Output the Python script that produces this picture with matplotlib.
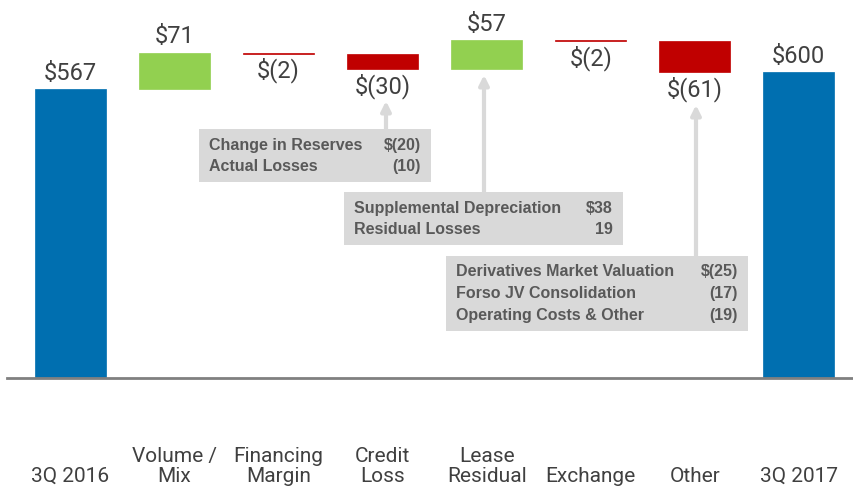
import matplotlib
matplotlib.use('Agg')
import matplotlib.pyplot as plt
from matplotlib.patches import Rectangle
from matplotlib.transforms import Affine2D, blended_transform_factory
import numpy as np

# waterfall data
categories = ['3Q 2016', 'Volume /\nMix', 'Financing\nMargin', 'Credit\nLoss',
              'Lease\nResidual', 'Exchange', 'Other', '3Q 2017']
values = [567, 71, -2, -30, 57, -2, -61, 600]
is_total = [True, False, False, False, False, False, False, True]
value_labels = ['$567', '$71', '$(2)', '$(30)', '$57', '$(2)', '$(61)', '$600']

# callout boxes
box1_items = ['Change in Reserves', 'Actual Losses']
box1_vals = ['$(20)', '(10)']
box2_items = ['Supplemental Depreciation', 'Residual Losses']
box2_vals = ['$38', '19']
box3_items = ['Derivatives Market Valuation', 'Forso JV Consolidation', 'Operating Costs & Other']
box3_vals = ['$(25)', '(17)', '(19)']

BLUE = '#006fb0'
GREEN = '#92d050'
RED = '#c00000'
TXT = '#404040'
BOXC = '#d9d9d9'

cond = ['Roboto', 'DejaVu Sans']
boxfont = ['Liberation Sans', 'DejaVu Sans']

W, H = 854, 490
fig = plt.figure(figsize=(W / 100, H / 100), dpi=100)
ax = fig.add_axes([7 / W, (H - 378) / H, (W - 7) / W, 378 / H])
ax.set_xlim(-0.61, 7.53)
ax.set_ylim(0, 741)

# compute bottoms
bottoms = []
heights = []
colors = []
running = 0
for v, tot in zip(values, is_total):
    if tot:
        bottoms.append(0)
        heights.append(v)
        colors.append(BLUE)
        running = v
    else:
        bottoms.append(running)
        heights.append(v)
        colors.append(GREEN if v > 0 else RED)
        running += v

x = np.arange(len(categories))
ax.bar(x, heights, bottom=bottoms, width=0.68, color=colors,
       edgecolor=colors, linewidth=0.5)

for xi, b, h, lab in zip(x, bottoms, heights, value_labels):
    top = b + h
    if h > 0:
        ax.annotate(lab, (xi, top), xytext=(0, 3), textcoords='offset points',
                    ha='center', va='bottom', fontsize=17, color=TXT, family=cond)
    else:
        ax.annotate(lab, (xi, top), xytext=(0, -3), textcoords='offset points',
                    ha='center', va='top', fontsize=17, color=TXT, family=cond)

for s in ['top', 'right', 'left']:
    ax.spines[s].set_visible(False)
ax.spines['bottom'].set_color('#808080')
ax.spines['bottom'].set_linewidth(2)
ax.set_yticks([])
ax.set_xticks([])

# category labels, bottom aligned
btr = blended_transform_factory(ax.transData, fig.transFigure)
for xi, c in zip(x, categories):
    ax.text(xi, 4 / H, c, transform=btr, ha='center', va='bottom', fontsize=15,
            color=TXT, family=cond, linespacing=1.05)

# pixel transform (top-left origin)
px = Affine2D().scale(1 / W, -1 / H).translate(0, 1) + fig.transFigure


def callout(x0, y0, x1, y1, items, vals, line_h, arrow_x, arrow_tip):
    fig.add_artist(Rectangle((x0, y1), x1 - x0, y0 - y1, transform=px,
                             facecolor=BOXC, edgecolor='none'))
    ytop = y0 + (y1 - y0 - line_h * (len(items) - 1)) / 2
    for i, (t, v) in enumerate(zip(items, vals)):
        yy = ytop + i * line_h
        fig.text(x0 + 10, yy, t, transform=px, ha='left', va='center',
                 fontsize=11.5, fontweight='bold', color='#595959', family=boxfont)
        fig.text(x1 - 10, yy, v, transform=px, ha='right', va='center',
                 fontsize=11.5, fontweight='bold', color='#595959', family=boxfont)
    ax.annotate('', xy=(arrow_x, arrow_tip), xytext=(arrow_x, y0), xycoords=px,
                textcoords=px, annotation_clip=False,
                arrowprops=dict(arrowstyle='-|>', lw=3, color=BOXC,
                                mutation_scale=14, shrinkA=0, shrinkB=0))


callout(199, 129, 431, 182, box1_items, box1_vals, 21, 386, 101)
callout(344, 192, 623, 245, box2_items, box2_vals, 21, 484, 75)
callout(446, 256, 748, 331, box3_items, box3_vals, 22, 696, 105)

fig.savefig('out.png', dpi=100)
